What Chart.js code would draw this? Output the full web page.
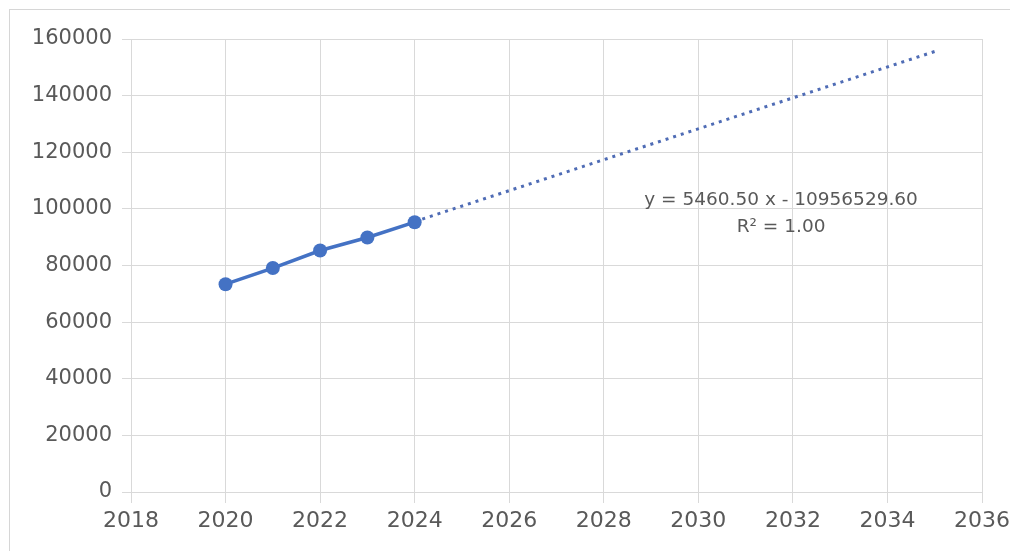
<!DOCTYPE html>
<html>
<head>
<meta charset="utf-8">
<script src="https://cdn.jsdelivr.net/npm/chart.js@4"></script>
<style>
  html, body { margin: 0; padding: 0; background: #fff; overflow: hidden; }
  #frame { position: absolute; left: 9px; top: 9px; width: 1200px; height: 700px; border: 1px solid #d6d6d6; }
  #wrap { position: absolute; left: 0; top: 0; width: 1010px; height: 551px; }
</style>
</head>
<body>
<div id="frame"></div>
<div id="wrap"><canvas id="chart" width="1010" height="551"></canvas></div>
<script>
const years = [2020, 2021, 2022, 2023, 2024];
const values = [73400, 79100, 85300, 89900, 95300];

// trendline as shown on the chart (visible part runs from the last point on)
const slope = 5460.50;
const intercept = -10956529.60;
const trendYears = [2024, 2035];
const equationText = 'y = 5460.50 x - 10956529.60';
const r2Text = 'R\u00B2 = 1.00';

const textColor = '#595959';
const gridColor = '#d9d9d9';

const trendLabel = {
  id: 'trendLabel',
  afterDatasetsDraw(chart) {
    const { ctx, scales } = chart;
    const x = scales.x.getPixelForValue(2031.75);
    const y = scales.y.getPixelForValue(103000);
    ctx.save();
    ctx.fillStyle = textColor;
    ctx.font = '18.5px "DejaVu Sans"';
    ctx.textAlign = 'center';
    ctx.textBaseline = 'middle';
    ctx.fillText(equationText, x, y);
    ctx.fillText(r2Text, x, y + 27);
    ctx.restore();
  }
};

new Chart(document.getElementById('chart'), {
  type: 'scatter',
  data: {
    datasets: [
      {
        label: 'Trend',
        data: trendYears.map(yr => ({ x: yr, y: slope * yr + intercept })),
        showLine: true,
        borderColor: '#4f6cb5',
        borderWidth: 3,
        borderDash: [3, 5],
        pointRadius: 0,
        order: 2
      },
      {
        label: 'Values',
        data: years.map((yr, i) => ({ x: yr, y: values[i] })),
        showLine: true,
        borderColor: '#4472c4',
        backgroundColor: '#4472c4',
        borderWidth: 3.5,
        pointRadius: 7,
        pointBorderWidth: 0,
        order: 1
      }
    ]
  },
  options: {
    responsive: false,
    animation: false,
    layout: { padding: { left: 0, right: 28, top: 39, bottom: 0 } },
    plugins: {
      legend: { display: false },
      tooltip: { enabled: false }
    },
    scales: {
      x: {
        type: 'linear',
        min: 2018,
        max: 2036,
        grid: { color: gridColor, tickLength: 11 },
        border: { color: gridColor },
        ticks: { stepSize: 2, color: textColor, font: { family: 'DejaVu Sans', size: 22 }, padding: 5, callback: v => String(v) },
        afterFit: s => { s.height = 59; s.paddingRight = 0; s.paddingLeft = 0; }
      },
      y: {
        min: 0,
        max: 160000,
        grid: { color: gridColor, tickLength: 9 },
        border: { color: gridColor },
        ticks: { stepSize: 20000, color: textColor, font: { family: 'DejaVu Sans', size: 21 }, padding: 10, callback: v => String(v) },
        afterFit: s => { s.width = 131; }
      }
    }
  },
  plugins: [trendLabel]
});
</script>
</body>
</html>
